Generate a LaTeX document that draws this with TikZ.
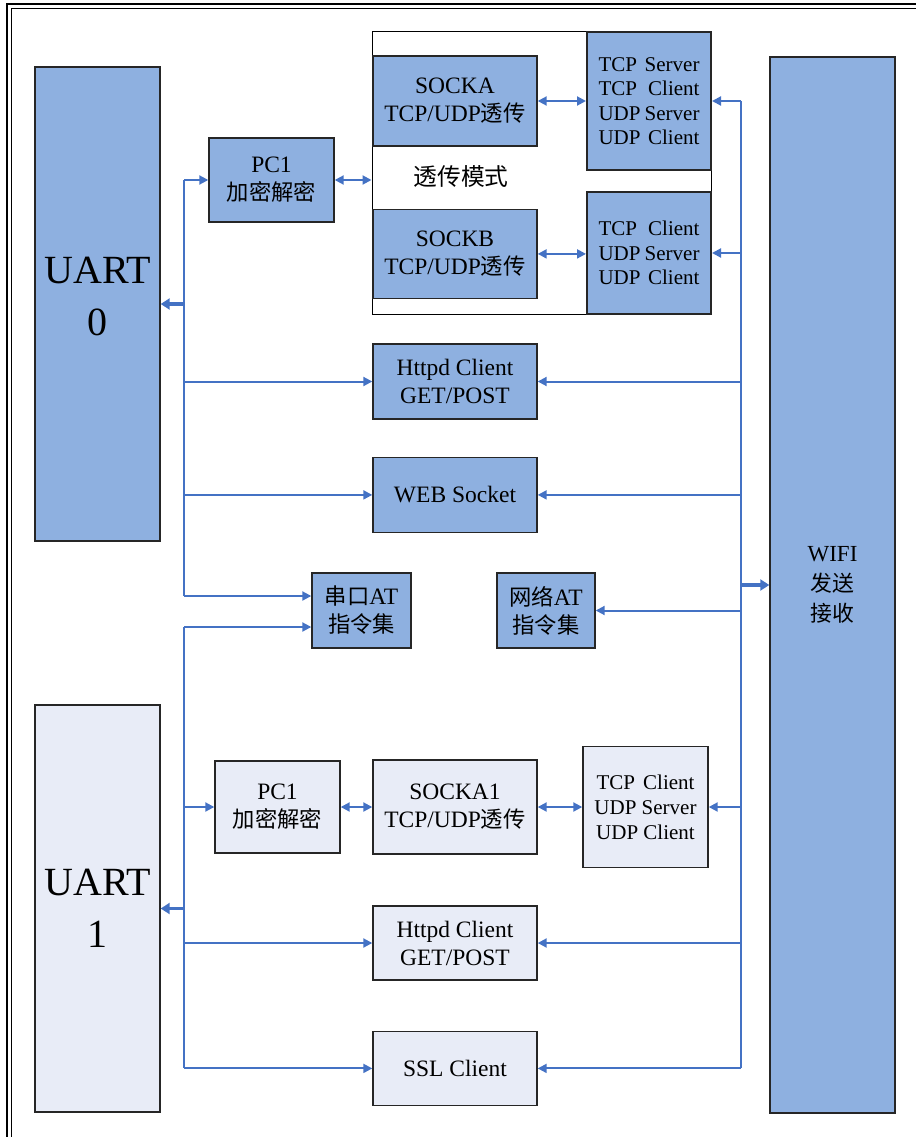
\documentclass[tikz,border=0pt]{standalone}
\usepackage{fontspec}
\setmainfont{Liberation Serif}
\newfontfamily\cjk[Scale=0.95]{Noto Sans CJK SC}
\usepackage{tikz}
\usetikzlibrary{arrows.meta, positioning}

\definecolor{boxblue}{HTML}{8EB0E0}
\definecolor{boxpale}{HTML}{E8ECF7}
\definecolor{linkblue}{HTML}{4472C4}

\newcommand{\spread}[1]{\makebox[101pt][s]{#1}}

\tikzset{
  unit/.style={rectangle, draw=black!85, line width=1.4pt, align=center, inner sep=0pt,
    font=\fontsize{23.5}{28}\selectfont},
  darkunit/.style={unit, fill=boxblue},
  paleunit/.style={unit, fill=boxpale},
  modeunit/.style={darkunit, line width=2pt, font=\fontsize{21}{24.5}\selectfont},
  link/.style={draw=linkblue, line width=2pt, -{Triangle[length=9pt,width=9pt]}},
  duplex/.style={link, {Triangle[length=9pt,width=9pt]}-{Triangle[length=9pt,width=9pt]}},
  feed/.style={link, line width=3.2pt, -{Triangle[length=9pt,width=11pt]}},
  trunk/.style={draw=linkblue, line width=2pt},
}

\begin{document}
\begin{tikzpicture}[x=1pt, y=-1pt]
  \useasboundingbox (0,0) rectangle (915,1137);
  \draw[line width=2.2pt] (7,1160) -- (7,4) -- (940,4);
  \draw[line width=0.9pt] (11,1160) -- (11,8.5) -- (940,8.5);

  \node[darkunit, minimum width=125pt, minimum height=474pt, font=\fontsize{40}{52}\selectfont]
    (uart0) at (97.5,304) {UART\\0\rule[-16pt]{0pt}{0pt}};
  \node[paleunit, minimum width=125pt, minimum height=407pt, font=\fontsize{40}{52}\selectfont]
    (uart1) at (97.5,908.5) {UART\\1};
  \node[darkunit, minimum width=125pt, minimum height=1056pt, font=\fontsize{23}{30}\selectfont]
    (wifi) at (832.5,585) {WIFI\\{\cjk 发送}\\{\cjk 接收}};

  \node[rectangle, draw=black, line width=1pt, fill=white, minimum width=339pt, minimum height=282pt]
    (mode) at (541.5,173) {};
  \node[font=\fontsize{25}{28}\selectfont] (modelabel) at (461,176) {\cjk 透传模式};
  \node[darkunit, minimum width=164pt, minimum height=90pt] (sockA) at (455,101)
    {SOCKA\\TCP/UDP{\cjk 透传}};
  \node[darkunit, minimum width=164pt, minimum height=89pt, below=62pt of sockA] (sockB)
    {SOCKB\\TCP/UDP{\cjk 透传}};
  \node[modeunit, minimum width=124pt, minimum height=138pt] (srvA) at (649,101)
    {\spread{TCP Server}\\\spread{TCP Client}\\\spread{UDP Server}\\\spread{UDP Client}};
  \node[modeunit, minimum width=124pt, minimum height=122pt] (srvB) at (649,253)
    {\spread{TCP Client}\\\spread{UDP Server}\\\spread{UDP Client}};
  \node[darkunit, minimum width=125pt, minimum height=84pt] (pcA) at (271.5,180)
    {PC1\\{\cjk 加密解密}};

  \node[darkunit, minimum width=164pt, minimum height=75pt] (httpA) at (455,381.5)
    {Httpd Client\\GET/POST};
  \node[darkunit, minimum width=164pt, minimum height=75pt, below=37pt of httpA] (webA)
    {WEB Socket};
  \node[darkunit, minimum width=99pt, minimum height=75pt] (serAT) at (361.5,610.5)
    {{\cjk 串口}AT\\{\cjk 指令集}};
  \node[darkunit, minimum width=98pt, minimum height=75pt] (netAT) at (546,610.5)
    {{\cjk 网络}AT\\{\cjk 指令集}};

  \node[paleunit, minimum width=125pt, minimum height=92pt] (pcB) at (277.5,807)
    {PC1\\{\cjk 加密解密}};
  \node[paleunit, minimum width=164pt, minimum height=94pt] (sockC) at (455,807)
    {SOCKA1\\TCP/UDP{\cjk 透传}};
  \node[paleunit, minimum width=125pt, minimum height=121pt, font=\fontsize{21}{25}\selectfont]
    (srvC) at (645.5,807) {\makebox[98pt][s]{TCP Client}\\UDP Server\\UDP Client};
  \node[paleunit, minimum width=164pt, minimum height=74pt] (httpB) at (455,943)
    {Httpd Client\\GET/POST};
  \node[paleunit, minimum width=164pt, minimum height=74pt, below=50pt of httpB] (sslB)
    {SSL Client};

  \coordinate (lbus) at (184,0);
  \coordinate (rbus) at (741,0);
  \coordinate (serin0) at ([yshift=14.5pt]serAT.west);
  \coordinate (serin1) at ([yshift=-16.5pt]serAT.west);

  \draw[trunk] (lbus |- pcA) -- (lbus |- serin0);
  \draw[trunk] (lbus |- serin1) -- (lbus |- sslB);
  \draw[trunk] (rbus |- srvA) -- (rbus |- sslB);

  \draw[link] (lbus |- pcA) -- (pcA.west);
  \draw[link] (lbus |- httpA) -- (httpA.west);
  \draw[link] (lbus |- webA) -- (webA.west);
  \draw[link] (lbus |- serin0) -- (serin0);
  \draw[link] (lbus |- serin1) -- (serin1);
  \draw[link] (lbus |- pcB) -- (pcB.west);
  \draw[link] (lbus |- httpB) -- (httpB.west);
  \draw[link] (lbus |- sslB) -- (sslB.west);
  \draw[feed] (lbus |- uart0) -- (uart0.east);
  \draw[feed] (lbus |- uart1) -- (uart1.east);

  \draw[duplex] (pcA.east) -- (pcA.east -| mode.west);
  \draw[duplex] (sockA.east) -- (srvA.west);
  \draw[duplex] (sockB.east) -- (sockB.east -| srvB.west);
  \draw[duplex] (pcB.east) -- (sockC.west);
  \draw[duplex] (sockC.east) -- (srvC.west);

  \draw[link] (rbus |- srvA) -- (srvA.east);
  \draw[link] (rbus |- srvB) -- (srvB.east);
  \draw[link] (rbus |- httpA) -- (httpA.east);
  \draw[link] (rbus |- webA) -- (webA.east);
  \draw[link] (rbus |- netAT) -- (netAT.east);
  \draw[link] (rbus |- srvC) -- (srvC.east);
  \draw[link] (rbus |- httpB) -- (httpB.east);
  \draw[link] (rbus |- sslB) -- (sslB.east);
  \draw[feed] (rbus |- wifi) -- (wifi.west);
\end{tikzpicture}
\end{document}
